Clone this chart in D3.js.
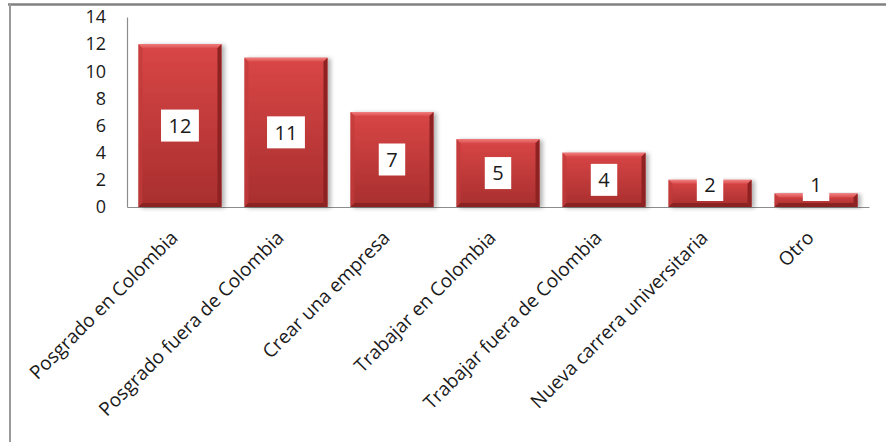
<!DOCTYPE html>
<html>
<head>
<meta charset="utf-8">
<script src="https://cdn.jsdelivr.net/npm/d3@7"></script>
<style>
  html, body { margin: 0; padding: 0; background: #fff; }
  svg { display: block; }
</style>
</head>
<body>
<svg id="chart" width="886" height="442"></svg>
<script>
const categories = ["Posgrado en Colombia", "Posgrado fuera de Colombia", "Crear una empresa", "Trabajar en Colombia", "Trabajar fuera de Colombia", "Nueva carrera universitaria", "Otro"];
const values = [12, 11, 7, 5, 4, 2, 1];
const yTicks = [0, 2, 4, 6, 8, 10, 12, 14];

const svg = d3.select("#chart");
const font = "'Open Sans', 'DejaVu Sans', sans-serif";

// frame
svg.append("line").attr("x1", 8).attr("x2", 886).attr("y1", 4.5).attr("y2", 4.5)
  .attr("stroke", "#808080").attr("stroke-width", 2.5);
svg.append("line").attr("x1", 10).attr("x2", 10).attr("y1", 4).attr("y2", 442)
  .attr("stroke", "#9a9a9a").attr("stroke-width", 2);

const x = d3.scaleBand().domain(categories).range([127, 869]).paddingInner(0.217).paddingOuter(0.108);
const y = d3.scaleLinear().domain([0, 14]).range([207, 17]);

const defs = svg.append("defs");
const grad = defs.append("linearGradient").attr("id", "barGrad").attr("x1", 0).attr("y1", 0).attr("x2", 0).attr("y2", 1);
grad.append("stop").attr("offset", "0%").attr("stop-color", "#d94646");
grad.append("stop").attr("offset", "100%").attr("stop-color", "#a82e2e");
const topGrad = defs.append("linearGradient").attr("id", "topGrad").attr("x1", 0).attr("y1", 0).attr("x2", 0).attr("y2", 1);
topGrad.append("stop").attr("offset", "0%").attr("stop-color", "#f08080");
topGrad.append("stop").attr("offset", "100%").attr("stop-color", "#dc4c4c");
const f = defs.append("filter").attr("id", "shadow").attr("x", "-10%").attr("y", "-10%").attr("width", "130%").attr("height", "130%");
f.append("feDropShadow").attr("dx", 3).attr("dy", 1).attr("stdDeviation", 2).attr("flood-color", "#000").attr("flood-opacity", 0.3);

// axes
const yAxis = svg.append("g").attr("transform", "translate(127,0)")
  .call(d3.axisLeft(y).tickValues(yTicks).tickSize(0).tickSizeOuter(0).tickPadding(21));
yAxis.select(".domain").attr("stroke", "#8c8c8c").attr("stroke-width", 1.2);
yAxis.selectAll("text").attr("font-family", font).attr("font-size", 18).attr("fill", "#1a1a1a");

const xAxis = svg.append("g").attr("transform", "translate(0,207)")
  .call(d3.axisBottom(x).tickSize(0).tickSizeOuter(0));
xAxis.select(".domain").attr("stroke", "#8c8c8c").attr("stroke-width", 1.2);
xAxis.selectAll("text")
  .attr("font-family", font).attr("font-size", 19).attr("fill", "#1a1a1a")
  .attr("text-anchor", "end").attr("x", 0).attr("y", 0).attr("dy", 0)
  .attr("transform", "translate(-1,32) rotate(-45)");

// bars
const b = 4;
const bars = svg.append("g").selectAll("g").data(categories).join("g")
  .attr("filter", "url(#shadow)");
bars.each(function(c, i) {
  const g = d3.select(this);
  const x0 = x(c), w = x.bandwidth(), y0 = y(values[i]), y1 = y(0);
  const h = y1 - y0;
  const bb = Math.min(b, h / 2);
  g.append("rect").attr("x", x0).attr("y", y0).attr("width", w).attr("height", h).attr("fill", "url(#barGrad)");
  // top bevel
  g.append("polygon").attr("points", [[x0, y0], [x0 + w, y0], [x0 + w - bb, y0 + bb], [x0 + bb, y0 + bb]].join(" "))
    .attr("fill", "url(#topGrad)");
  // left bevel
  g.append("polygon").attr("points", [[x0, y0], [x0 + bb, y0 + bb], [x0 + bb, y1 - bb], [x0, y1]].join(" "))
    .attr("fill", "#c23a3a").attr("opacity", 0.7);
  // right bevel
  g.append("polygon").attr("points", [[x0 + w, y0], [x0 + w, y1], [x0 + w - bb, y1 - bb], [x0 + w - bb, y0 + bb]].join(" "))
    .attr("fill", "#8e2222");
  // bottom bevel
  g.append("polygon").attr("points", [[x0, y1], [x0 + w, y1], [x0 + w - bb, y1 - bb], [x0 + bb, y1 - bb]].join(" "))
    .attr("fill", "#8a2424");
});

// labels
const labels = svg.append("g").selectAll("g").data(categories).join("g");
labels.each(function(c, i) {
  const g = d3.select(this);
  const cx = x(c) + x.bandwidth() / 2;
  const cy = Math.min((y(values[i]) + y(0)) / 2, y(0) - 22);
  const rect = g.append("rect").attr("fill", "#fff");
  const t = g.append("text").attr("x", cx).attr("y", cy).attr("dy", "0.36em")
    .attr("text-anchor", "middle").attr("font-family", font).attr("font-size", 20).attr("fill", "#1a1a1a")
    .text(values[i]);
  const tw = t.node().getComputedTextLength();
  const rw = tw + 15;
  rect.attr("x", cx - rw / 2).attr("y", cy - 16).attr("width", rw).attr("height", 32);
});
</script>
</body>
</html>
